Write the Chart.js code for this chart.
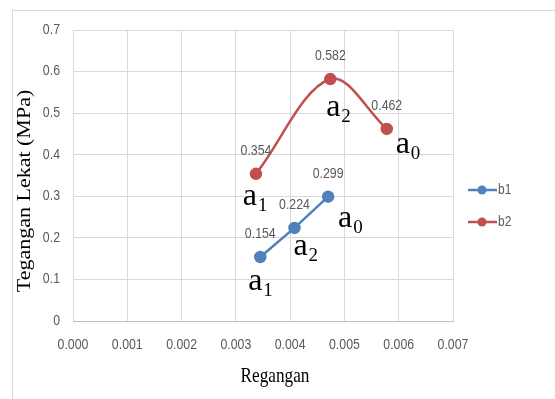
<!DOCTYPE html>
<html>
<head>
<meta charset="utf-8">
<script src="https://cdn.jsdelivr.net/npm/chart.js@4.4.1/dist/chart.umd.min.js"></script>
<style>
  html, body { margin: 0; padding: 0; background: #fff; }
  #wrap { width: 555px; height: 399px; }
</style>
</head>
<body>
<div id="wrap"><canvas id="chart" width="555" height="399"></canvas></div>
<script>
// data
var seriesNames = ['b1', 'b2'];
var strainB1 = [0.00345, 0.00408, 0.00470];
var stressB1 = [0.154, 0.224, 0.299];
var strainB2 = [0.00337, 0.00474, 0.00578];
var stressB2 = [0.354, 0.582, 0.462];
var pointTagsB1 = ['1', '2', '0'];
var pointTagsB2 = ['1', '2', '0'];
var xTitle = 'Regangan';
var yTitle = 'Tegangan Lekat (MPa)';

var colors = ['#4F81BD', '#C0504D'];
var sans = '"Liberation Sans", Arial, sans-serif';
var serif = '"Liberation Serif", "Times New Roman", serif';

// where each "a" tag sits, relative to its point (px, centre of the "a")
var tagOffsets = [
  [[-5, 26], [6, 20], [17, 23]],
  [[-6, 24], [3, 30], [16, 17]]
];
var tags = [pointTagsB1, pointTagsB2];

function toPoints(xs, ys) {
  var pts = [];
  xs.forEach(function (x, i) { pts.push({ x: x, y: ys[i] }); });
  return pts;
}

// text squeezed sideways like the source image
function squeezed(ctx, text, x, y, font, align, sx, rot) {
  ctx.save();
  ctx.translate(x, y);
  if (rot) ctx.rotate(rot);
  ctx.scale(sx, 1);
  ctx.font = font;
  ctx.textAlign = align;
  ctx.fillText(text, 0, 0);
  ctx.restore();
}

var extras = {
  id: 'extras',
  beforeDraw: function (chart) {
    var ctx = chart.ctx;
    ctx.save();
    ctx.fillStyle = '#fff';
    ctx.fillRect(0, 0, chart.width, chart.height);
    ctx.strokeStyle = '#d9d9d9';
    ctx.lineWidth = 1;
    ctx.strokeRect(12.5, 10.5, 700, 500);
    ctx.restore();
  },
  afterDraw: function (chart) {
    var ctx = chart.ctx;
    var xs = chart.scales.x, ys = chart.scales.y;
    ctx.save();
    ctx.textBaseline = 'middle';
    // tick labels
    ctx.fillStyle = '#595959';
    xs.ticks.forEach(function (t) {
      squeezed(ctx, t.value.toFixed(3), xs.getPixelForValue(t.value), 345, '14px ' + sans, 'center', 0.88);
    });
    ys.ticks.forEach(function (t) {
      var lbl = t.value === 0 ? '0' : t.value.toFixed(1);
      squeezed(ctx, lbl, 60, ys.getPixelForValue(t.value), '14px ' + sans, 'right', 0.88);
    });
    // axis titles
    ctx.fillStyle = '#000';
    squeezed(ctx, xTitle, 275, 376, '21px ' + serif, 'center', 0.82);
    ctx.save();
    ctx.translate(25, 191);
    ctx.rotate(-Math.PI / 2);
    ctx.scale(1, 0.82);
    ctx.font = '22px ' + serif;
    ctx.textAlign = 'center';
    ctx.fillText(yTitle, 0, 0);
    ctx.restore();

    chart.data.datasets.forEach(function (ds, di) {
      var meta = chart.getDatasetMeta(di);
      meta.data.forEach(function (pt, i) {
        // value label
        ctx.fillStyle = '#595959';
        ctx.textBaseline = 'middle';
        squeezed(ctx, ds.data[i].y.toFixed(3), pt.x, pt.y - 23, '14px ' + sans, 'center', 0.88);
        // a with subscript
        var off = tagOffsets[di][i];
        var ax = pt.x + off[0], ay = pt.y + off[1] + 7;
        ctx.fillStyle = '#000';
        ctx.textBaseline = 'alphabetic';
        ctx.font = '32px ' + serif;
        ctx.textAlign = 'center';
        ctx.fillText('a', ax, ay);
        ctx.font = '19px ' + serif;
        ctx.textAlign = 'left';
        ctx.fillText(tags[di][i], ax + 8, ay + 6);
      });
    });
    // legend
    var ly = [190, 222];
    seriesNames.forEach(function (name, i) {
      ctx.strokeStyle = colors[i];
      ctx.lineWidth = 2.5;
      ctx.beginPath();
      ctx.moveTo(468, ly[i]);
      ctx.lineTo(497, ly[i]);
      ctx.stroke();
      ctx.fillStyle = colors[i];
      ctx.beginPath();
      ctx.arc(482, ly[i], 4.5, 0, Math.PI * 2);
      ctx.fill();
      ctx.fillStyle = '#595959';
      ctx.textBaseline = 'middle';
      squeezed(ctx, name, 498, ly[i], '15px ' + sans, 'left', 0.8);
    });
    ctx.restore();
  }
};

var ctx = document.getElementById('chart').getContext('2d');
var myChart = new Chart(ctx, {
  type: 'scatter',
  data: {
    datasets: [{
      label: seriesNames[0],
      data: toPoints(strainB1, stressB1),
      showLine: true,
      borderColor: colors[0],
      backgroundColor: colors[0],
      borderWidth: 2.5,
      pointRadius: 5,
      pointHoverRadius: 5,
      tension: 0
    }, {
      label: seriesNames[1],
      data: toPoints(strainB2, stressB2),
      showLine: true,
      borderColor: colors[1],
      backgroundColor: colors[1],
      borderWidth: 2.5,
      pointRadius: 5,
      pointHoverRadius: 5,
      tension: 0.35
    }]
  },
  options: {
    responsive: false,
    animation: false,
    layout: { padding: { left: 14, right: 102, top: 30, bottom: 10 } },
    plugins: { legend: { display: false }, tooltip: { enabled: false } },
    scales: {
      x: {
        type: 'linear',
        min: 0,
        max: 0.007,
        afterFit: function (scale) { scale.height = 68; },
        ticks: { stepSize: 0.001, color: 'rgba(0,0,0,0)' },
        grid: { color: '#d9d9d9', drawTicks: false },
        border: { color: '#bfbfbf' }
      },
      y: {
        min: 0,
        max: 0.7,
        afterFit: function (scale) { scale.width = 59; },
        ticks: { stepSize: 0.1, color: 'rgba(0,0,0,0)' },
        grid: { color: '#d9d9d9', drawTicks: false },
        border: { display: false }
      }
    }
  },
  plugins: [extras]
});
</script>
</body>
</html>
